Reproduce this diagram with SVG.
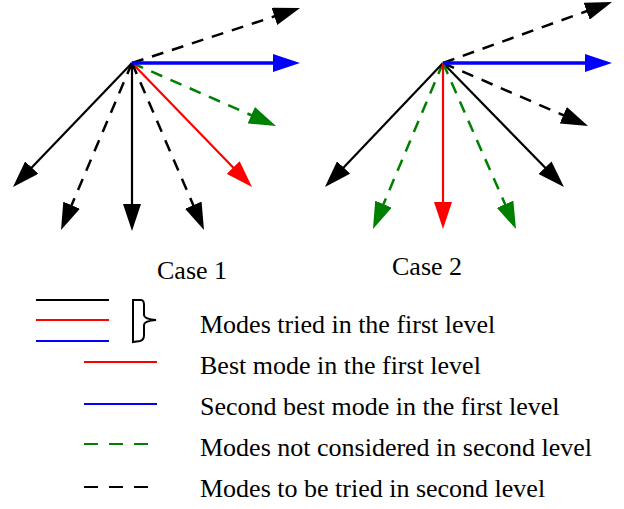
<svg xmlns="http://www.w3.org/2000/svg" width="624" height="509" viewBox="0 0 624 509">
<style>
text{font-family:"Liberation Serif","Times New Roman",serif;font-size:26px;fill:#000}
.a{fill:none;stroke-width:2.2}
.k{stroke:#000}.r{stroke:#f00}.b{stroke:#00f;stroke-width:3.5}.g{stroke:#008000}
.d{stroke-dasharray:12 9;stroke-width:2.5}
.lg{fill:none;stroke-width:2.2}
.ld{stroke-dasharray:14 11}
</style>
<defs>
<marker id="mk" markerUnits="userSpaceOnUse" markerWidth="27" markerHeight="18" refX="2" refY="9" orient="auto"><path d="M0,0 L27,9 L0,18 z" fill="#000"/></marker>
<marker id="mr" markerUnits="userSpaceOnUse" markerWidth="27" markerHeight="18" refX="2" refY="9" orient="auto"><path d="M0,0 L27,9 L0,18 z" fill="#f00"/></marker>
<marker id="mb" markerUnits="userSpaceOnUse" markerWidth="27" markerHeight="18" refX="2" refY="9" orient="auto"><path d="M0,0 L27,9 L0,18 z" fill="#00f"/></marker>
<marker id="mg" markerUnits="userSpaceOnUse" markerWidth="27" markerHeight="18" refX="2" refY="9" orient="auto"><path d="M0,0 L27,9 L0,18 z" fill="#008000"/></marker>
</defs>
<g id="connectors">
<g id="case1-arrows">
<line class="a k d" x1="132" y1="63" x2="276.3" y2="15.8" marker-end="url(#mk)"/>
<line class="a g d" x1="132" y1="63" x2="253.1" y2="116" marker-end="url(#mg)"/>
<line class="a r" x1="132" y1="63" x2="234.6" y2="169" marker-end="url(#mr)"/>
<line class="a k d" x1="132" y1="63" x2="194.1" y2="207" marker-end="url(#mk)"/>
<line class="a k d" x1="132" y1="63" x2="70.8" y2="207" marker-end="url(#mk)"/>
<line class="a k" x1="132" y1="63" x2="30.3" y2="169" marker-end="url(#mk)"/>
<line class="a k" x1="132" y1="63" x2="132" y2="206" marker-end="url(#mk)"/>
<line class="a b" x1="132" y1="63" x2="275" y2="63" marker-end="url(#mb)"/>
</g>
<g id="case2-arrows">
<line class="a k d" x1="443" y1="63" x2="588.5" y2="10.5" marker-end="url(#mk)"/>
<line class="a k d" x1="443" y1="63" x2="565.1" y2="116" marker-end="url(#mk)"/>
<line class="a k" x1="443" y1="63" x2="546.5" y2="169.1" marker-end="url(#mk)"/>
<line class="a g d" x1="443" y1="63" x2="505.9" y2="206.1" marker-end="url(#mg)"/>
<line class="a g d" x1="443" y1="63" x2="382.7" y2="206" marker-end="url(#mg)"/>
<line class="a k" x1="443" y1="63" x2="342.2" y2="168.9" marker-end="url(#mk)"/>
<line class="a r" x1="443" y1="63" x2="443" y2="204" marker-end="url(#mr)"/>
<line class="a b" x1="443" y1="63" x2="587" y2="63" marker-end="url(#mb)"/>
</g>
</g>
<g id="case1-label"><text x="157" y="279">Case 1</text></g>
<g id="case2-label"><text x="392" y="275">Case 2</text></g>
<g id="legend">
<g id="legend-tried">
<line class="lg k" x1="36" y1="300" x2="109" y2="300"/>
<line class="lg r" x1="36" y1="320" x2="109" y2="320"/>
<line class="lg" stroke="#00f" x1="36" y1="341" x2="109" y2="341"/>
<path d="M141,300 L133,300 L133,342 L140,341 Q144,340 144,335 L144,325 Q144,321 156,320 Q144,319 144,315 L144,305 Q144,300 141,300 Z" fill="none" stroke="#000" stroke-width="2"/>
<text x="200" y="333">Modes tried in the first level</text>
</g>
<g id="legend-best">
<line class="lg r" x1="84" y1="362" x2="157" y2="362"/>
<text x="200" y="374">Best mode in the first level</text>
</g>
<g id="legend-second">
<line class="lg" stroke="#00f" x1="84" y1="404" x2="157" y2="404"/>
<text x="200" y="415">Second best mode in the first level</text>
</g>
<g id="legend-notconsidered">
<line class="lg g ld" x1="84" y1="444" x2="148" y2="444"/>
<text x="200" y="456">Modes not considered in second level</text>
</g>
<g id="legend-tobetried">
<line class="lg k ld" x1="84" y1="487" x2="148" y2="487"/>
<text x="200" y="497">Modes to be tried in second level</text>
</g>
</g>
</svg>
